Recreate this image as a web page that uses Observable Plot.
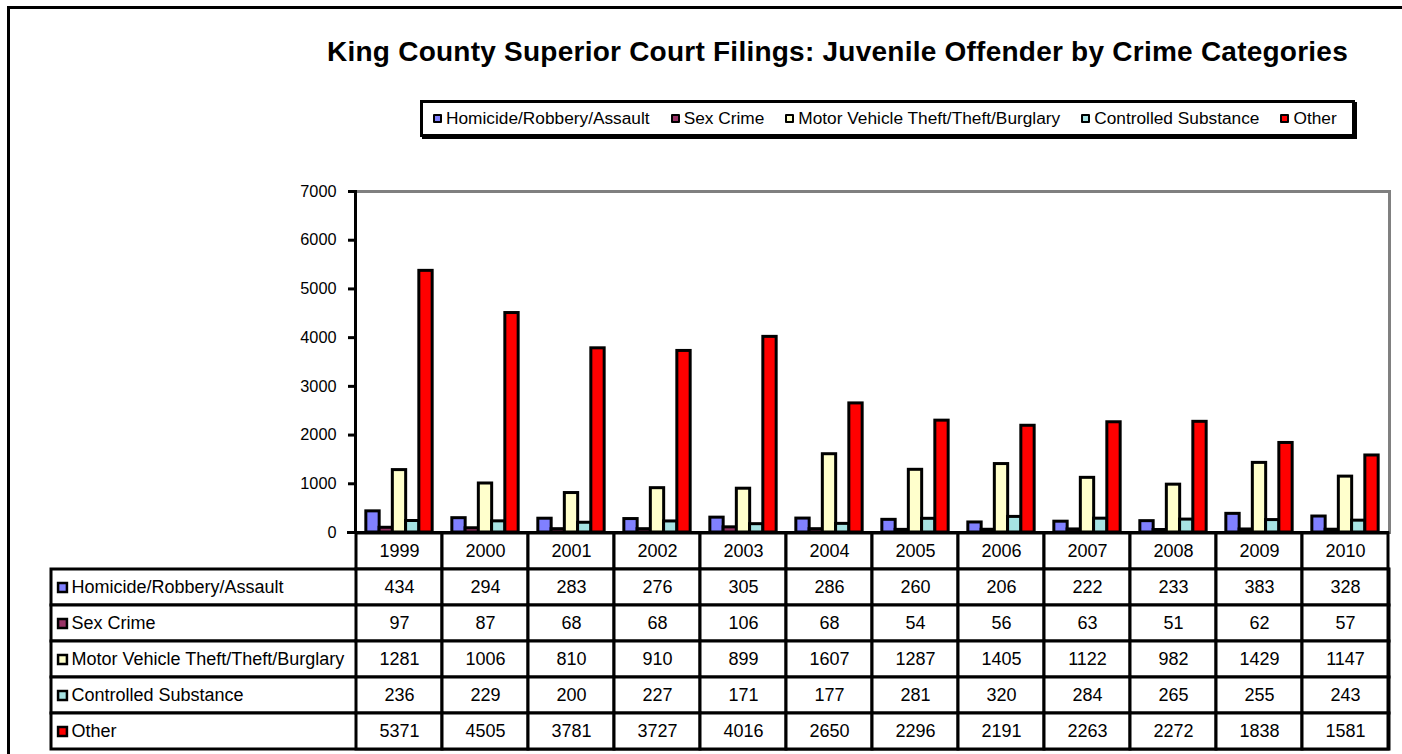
<!DOCTYPE html>
<html>
<head>
<meta charset="utf-8">
<script src="https://cdn.jsdelivr.net/npm/d3@7"></script>
<script src="https://cdn.jsdelivr.net/npm/@observablehq/plot@0.6"></script>
<style>
  html, body { margin: 0; padding: 0; background: #fff; overflow: hidden; }
  #wrap { position: relative; width: 1402px; height: 754px; overflow: hidden; font-family: "Liberation Sans", Arial, sans-serif; color: #000; }
  #wrap svg { position: absolute; left: 0; top: 0; }
  #frameTop { position: absolute; left: 7px; top: 6px; width: 1395px; height: 2.5px; background: #000; }
  #frameLeft { position: absolute; left: 7px; top: 6px; width: 2.5px; height: 748px; background: #000; }
  #edge { position: absolute; left: 1393px; top: 9px; width: 9px; height: 745px; background: #fff; z-index: 10; }
  #title { position: absolute; left: 327px; top: 38px; font-weight: bold; font-size: 28px; line-height: 28px; white-space: nowrap; }
  #legend { position: absolute; left: 420px; top: 100px; width: 919px; height: 31px; border: 3px solid #000; box-shadow: 2px 2px 0 #000;
            display: flex; align-items: center; padding-left: 10px; box-sizing: content-box; background: #fff; }
  #legend .item { display: flex; align-items: center; margin-right: 21px; font-size: 17.3px; white-space: nowrap; }
  #legend .sw { display: inline-block; width: 5px; height: 5px; border: 2.5px solid #000; border-radius: 1px; margin-right: 4px; }
</style>
</head>
<body>
<div id="wrap">
  <div id="frameTop"></div>
  <div id="frameLeft"></div>
</div>
<script>
// ---- data ----
const years = ["1999", "2000", "2001", "2002", "2003", "2004", "2005", "2006", "2007", "2008", "2009", "2010"];
const categories = ["Homicide/Robbery/Assault", "Sex Crime", "Motor Vehicle Theft/Theft/Burglary", "Controlled Substance", "Other"];
const homicide = [434, 294, 283, 276, 305, 286, 260, 206, 222, 233, 383, 328];
const sexCrime = [97, 87, 68, 68, 106, 68, 54, 56, 63, 51, 62, 57];
const motorVehicleTheft = [1281, 1006, 810, 910, 899, 1607, 1287, 1405, 1122, 982, 1429, 1147];
const controlledSubstance = [236, 229, 200, 227, 171, 177, 281, 320, 284, 265, 255, 243];
const other = [5371, 4505, 3781, 3727, 4016, 2650, 2296, 2191, 2263, 2272, 1838, 1581];
const yTicks = [0, 1000, 2000, 3000, 4000, 5000, 6000, 7000];
const colors = ["#8080FF", "#993366", "#FFFFCC", "#A6E3E3", "#FF0000"];
const titleText = "King County Superior Court Filings: Juvenile Offender by Crime Categories";

const seriesValues = [homicide, sexCrime, motorVehicleTheft, controlledSubstance, other];
const rows = categories.flatMap((c, k) => years.map((y, i) => ({category: c, k, year: y, value: seriesValues[k][i]})));

// ---- layout ----
const W = 1402, H = 754;
const plotLeft = 355, plotRight = 13, plotTop = 191, plotBottomY = 532, tableBottom = 749, tableLeft = 51;
const font = '"Liberation Sans", Arial, sans-serif';
const bandW = (W - plotRight - plotLeft) / years.length;
const barW = 13.5, barStep = 13.25;
const barInset = (bandW - barW) / 2;

const wrap = document.getElementById("wrap");

// ---- bar chart ----
const chart = Plot.plot({
  width: W, height: H,
  marginTop: plotTop, marginBottom: H - plotBottomY, marginLeft: plotLeft, marginRight: plotRight,
  style: {fontFamily: font, fontSize: "16px", background: "transparent", color: "#000", overflow: "visible"},
  x: {type: "band", domain: years, padding: 0, axis: null},
  y: {domain: [0, 7000], axis: null},
  color: {domain: categories, range: colors},
  marks: [
    Plot.frame({stroke: "#808080", strokeWidth: 3}),
    ...categories.map((c, k) => Plot.barY(rows.filter(d => d.k === k), {
      x: "year", y: "value", fill: "category", stroke: "#000", strokeWidth: 3,
      insetLeft: barInset, insetRight: barInset, dx: (k - 2) * barStep
    })),
    Plot.frame({anchor: "left", stroke: "#000", strokeWidth: 3}),
    Plot.ruleY([0], {stroke: "#000", strokeWidth: 3, insetLeft: -8}),
    Plot.axisY({ticks: yTicks, tickSize: 7, tickPadding: 12, strokeWidth: 3, fontSize: 16.3, label: null, tickFormat: d => String(d)})
  ]
});
wrap.appendChild(chart);

// ---- data table ----
const tableRows = ["", ...categories];
const cells = [
  ...years.map(y => ({row: "", year: y, text: y})),
  ...rows.map(d => ({row: d.category, year: d.year, text: String(d.value)}))
];
const table = Plot.plot({
  width: W, height: H,
  marginTop: plotBottomY, marginBottom: H - tableBottom, marginLeft: tableLeft, marginRight: plotRight,
  style: {fontFamily: font, fontSize: "18px", background: "transparent", color: "#000", overflow: "visible"},
  x: {type: "band", domain: years, range: [plotLeft, W - plotRight], padding: 0, axis: null},
  y: {type: "band", domain: tableRows, padding: 0, axis: null},
  color: {domain: categories, range: colors},
  marks: [
    Plot.cell(categories, {y: d => d, fill: "#fff", stroke: "#000", strokeWidth: 3}),
    Plot.cell(cells, {x: "year", y: "row", fill: "#fff", stroke: "#000", strokeWidth: 3}),
    Plot.text(cells, {x: "year", y: "row", text: "text", fontSize: 18}),
    Plot.dot(categories, {y: d => d, frameAnchor: "left", dx: 11, symbol: "square", r: 5, fill: d => d, stroke: "#000", strokeWidth: 2.5}),
    Plot.text(categories, {y: d => d, text: d => d, frameAnchor: "left", textAnchor: "start", dx: 20, fontSize: 18})
  ]
});
wrap.appendChild(table);

// ---- title ----
const title = document.createElement("div");
title.id = "title";
title.textContent = titleText;
const ctx = document.createElement("canvas").getContext("2d");
ctx.font = 'bold 28px "Liberation Sans"';
const natural = ctx.measureText(titleText).width;
title.style.letterSpacing = ((1021 - natural) / titleText.length) + "px";
wrap.appendChild(title);

// ---- legend ----
const legend = document.createElement("div");
legend.id = "legend";
categories.forEach((c, k) => {
  const item = document.createElement("div");
  item.className = "item";
  const sw = document.createElement("span");
  sw.className = "sw";
  sw.style.background = colors[k];
  item.appendChild(sw);
  item.appendChild(document.createTextNode(c));
  legend.appendChild(item);
});
wrap.appendChild(legend);

const edge = document.createElement("div");
edge.id = "edge";
wrap.appendChild(edge);
</script>
</body>
</html>
